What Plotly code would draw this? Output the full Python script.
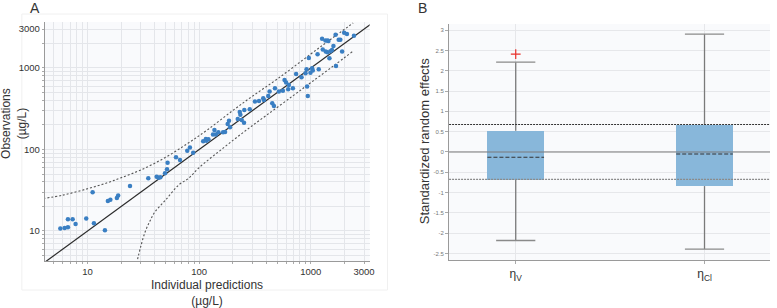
import plotly.graph_objects as go

# ---------------- Panel A data: observations vs individual predictions (µg/L)
ipred = [5.70, 6.23, 6.67, 6.67, 7.35, 7.81, 9.73, 11.1, 11.4, 14.3, 15.2, 16.0, 18.3, 18.8, 24.0,
         35.0, 41.6, 43.3, 44.9, 49.4, 51.5, 52.1, 62.0, 67.3, 78.2, 82.6, 88.4, 108.6, 114.8, 116.2,
         121, 133, 137, 141, 148.6, 163.7, 170.6, 180, 185, 189, 221.6, 230.9, 233.9, 240.6, 252.2,
         253.7, 283.8, 316, 343.5, 375, 380, 416, 427.6, 451.5, 467.7, 477.5, 517.6, 562.3, 582, 601,
         627, 636, 691, 739, 826, 897, 916, 927, 940, 960, 993, 1027, 1042, 1150, 1178, 1262, 1280,
         1352, 1413, 1440, 1360, 1409, 1469, 1500, 1550, 1595, 1667, 1683, 1778, 1840, 1908, 1990,
         2108, 2437]
obs = [10.7, 10.9, 11.1, 13.9, 13.9, 12.2, 14.2, 29.8, 12.4, 10.2, 23.3, 24.2, 25.4, 27.3, 35.6,
       44.3, 46.4, 45.1, 45.6, 51.0, 57.2, 68.9, 80.2, 74.3, 96.7, 106, 91.4, 126, 134.6, 128,
       133, 152, 173, 152, 162.6, 162.6, 164, 205, 225, 187, 236.5, 288, 267, 230, 213,
       305, 311, 386, 394, 425, 405, 453, 512, 369, 342, 563, 512, 526, 712, 660,
       548, 618, 563, 843, 769, 861, 964, 590, 453, 1324, 875, 991, 927, 1472, 964, 2275, 1687,
       2163, 2163, 2143, 1585, 1560, 1315, 1603, 1663, 1862, 2543, 1059, 2208, 2208, 1585, 2692,
       2600, 2472]

identity_x = [4, 3700]
pi_upper_x = [4.0, 6, 10, 15, 20, 30, 50, 80, 120, 200, 300, 500, 1000, 1500, 2400]
pi_upper_y = [25, 27.5, 33, 39, 45, 56, 80, 120, 176, 300, 450, 730, 1480, 2230, 3560]
pi_lower_x = [27.5, 30, 33, 36, 40, 50, 66, 80, 100, 157, 250, 400, 700, 1000, 1600, 2400]
pi_lower_y = [4.0, 6.5, 10, 13, 17, 24, 37, 44, 60, 99, 163, 262, 460, 660, 1060, 1610]

a_tickvals = [10, 100, 1000, 3000]

# ---------------- Panel B data: standardized random effects
b_labels = ["η<sub>V</sub>", "η<sub>Cl</sub>"]
b_pos = [0, 1]
b_lower = [-2.18, -2.39]
b_q1 = [-0.69, -0.84]
b_median = [-0.13, -0.05]
b_q3 = [0.52, 0.665]
b_upper = [2.21, 2.90]
b_outlier_pos = [0]
b_outlier_val = [2.41]
b_ref = [0.674, -0.674]
b_ticks = [3, 2.5, 2, 1.5, 1, 0.5, 0, -0.5, -1, -1.5, -2, -2.5]

BOX_HALF = 0.15
W, H = 777, 308

fig = go.Figure()

# ---- Panel A traces
fig.add_trace(go.Scatter(x=identity_x, y=identity_x, mode="lines",
                         line=dict(color="#2b2b2b", width=1.2), xaxis="x", yaxis="y",
                         showlegend=False, hoverinfo="skip"))
fig.add_trace(go.Scatter(x=pi_upper_x, y=pi_upper_y, mode="lines", line_shape="spline",
                         line=dict(color="#555555", width=1.1, dash="2px,2px"), xaxis="x", yaxis="y",
                         showlegend=False))
fig.add_trace(go.Scatter(x=pi_lower_x, y=pi_lower_y, mode="lines", line_shape="spline",
                         line=dict(color="#555555", width=1.1, dash="2px,2px"), xaxis="x", yaxis="y",
                         showlegend=False))
fig.add_trace(go.Scatter(x=ipred, y=obs, mode="markers",
                         marker=dict(color="#3a7fc3", size=4.5), xaxis="x", yaxis="y",
                         showlegend=False))

# ---- Panel B traces
fig.add_trace(go.Bar(x=b_pos, y=[q3 - q1 for q1, q3 in zip(b_q1, b_q3)], base=b_q1,
                     width=2 * BOX_HALF, marker=dict(color="#88b7da", line=dict(width=0)),
                     xaxis="x2", yaxis="y2", showlegend=False))
wx, wy = [], []
for p, lo, q1, q3, up in zip(b_pos, b_lower, b_q1, b_q3, b_upper):
    wx += [p, p, None, p, p, None]
    wy += [q3, up, None, q1, lo, None]
fig.add_trace(go.Scatter(x=wx, y=wy, mode="lines", line=dict(color="#7a7a7a", width=1.3),
                         xaxis="x2", yaxis="y2", showlegend=False))
fig.add_trace(go.Scatter(x=b_pos + b_pos, y=b_upper + b_lower, mode="markers",
                         marker=dict(symbol="line-ew", size=28,
                                     line=dict(color="#8a8a8a", width=1.3)),
                         xaxis="x2", yaxis="y2", showlegend=False))
mx, my = [], []
for p, m in zip(b_pos, b_median):
    mx += [p - BOX_HALF, p + BOX_HALF, None]
    my += [m, m, None]
fig.add_trace(go.Scatter(x=mx, y=my, mode="lines", line=dict(color="#333333", width=1.1, dash="4px,2px"),
                         xaxis="x2", yaxis="y2", showlegend=False))
fig.add_trace(go.Scatter(x=b_outlier_pos, y=b_outlier_val, mode="markers",
                         marker=dict(symbol="cross-thin", size=7, line=dict(color="#e8302a", width=1.2)),
                         xaxis="x2", yaxis="y2", showlegend=False))

# reference lines in panel B
fig.add_shape(type="line", xref="x2 domain", yref="y2", x0=0, x1=1, y0=0, y1=0,
              line=dict(color="#7a7a7a", width=1.1))
fig.add_shape(type="line", xref="x2 domain", yref="y2", x0=0, x1=1, y0=b_ref[0], y1=b_ref[0],
              line=dict(color="#333333", width=1.1, dash="2px,1px"))
fig.add_shape(type="line", xref="x2 domain", yref="y2", x0=0, x1=1, y0=b_ref[1], y1=b_ref[1],
              line=dict(color="#8a8a8a", width=1.1, dash="2px,1px"))

# faint panel frame around A
fig.add_shape(type="rect", xref="paper", yref="paper", x0=22 / W, x1=390 / W,
              y0=1 - 290 / H, y1=1 - 14 / H, line=dict(color="#f0f0f0", width=1), layer="below")

# ---- axes (minor gridlines at 2..9 within each decade)
a_minor = [m * 10 ** e for e in range(0, 4) for m in range(1, 10)]
a_minor = [v for v in a_minor if 4 <= v <= 3700 and v not in a_tickvals]

axis_a = dict(type="log", tickvals=a_tickvals, ticktext=[str(v) for v in a_tickvals],
              showgrid=True, gridcolor="#e4e6ea", gridwidth=1,
              minor=dict(tickmode="array", tickvals=a_minor, showgrid=True, gridcolor="#e4e6ea",
                         ticks="outside", ticklen=2, tickcolor="#aaaaaa"),
              showline=True, linecolor="#9a9a9a", ticks="outside", ticklen=2,
              tickcolor="#aaaaaa", tickfont=dict(size=9.5, color="#333333"), zeroline=False)

fig.update_layout(
    width=W, height=H, margin=dict(l=0, r=0, t=0, b=0),
    paper_bgcolor="white", plot_bgcolor="#f9fafc",
    font=dict(family="Liberation Sans, Arial, sans-serif", color="#333333", size=10),
    bargap=0,
    xaxis=dict(axis_a, domain=[45 / W, 372 / W], range=[0.616, 3.527], anchor="y"),
    yaxis=dict(axis_a, domain=[1 - 261 / H, 1 - 22 / H], range=[0.632, 3.563], anchor="x"),
    xaxis2=dict(domain=[452 / W, 775 / W], range=[-0.353, 1.347],
                tickvals=b_pos, ticktext=b_labels, showgrid=True, gridcolor="#e6e7ea",
                showline=True, linecolor="#9a9a9a", ticks="outside", ticklen=3,
                tickcolor="#aaaaaa", tickfont=dict(size=12, color="#333333"),
                zeroline=False, anchor="y2"),
    yaxis2=dict(domain=[1 - 260 / H, 1 - 24 / H], range=[-2.66, 3.15],
                tickvals=b_ticks, ticktext=[str(t) for t in b_ticks],
                showgrid=True, gridcolor="#e6e7ea",
                showline=True, linecolor="#9a9a9a", ticks="outside", ticklen=3,
                tickcolor="#aaaaaa", tickfont=dict(size=6, color="#777777"),
                zeroline=False, anchor="x2"),
)

annos = [
    dict(text="A", x=35 / W, y=1 - 8 / H, font=dict(size=14, color="#333333")),
    dict(text="B", x=425 / W, y=1 - 8 / H, font=dict(size=14, color="#333333")),
    dict(text="Observations<br>(µg/L)", x=14 / W, y=1 - 123 / H, textangle=-90,
         font=dict(size=12, color="#333333")),
    dict(text="Individual predictions<br>(µg/L)", x=208 / W, y=1 - 293 / H,
         font=dict(size=12, color="#333333")),
    dict(text="Standardized random effects", x=427 / W, y=1 - 141 / H, textangle=-90,
         font=dict(size=13, color="#333333")),
]
for a in annos:
    fig.add_annotation(xref="paper", yref="paper", showarrow=False,
                       xanchor="center", yanchor="middle", **a)

fig.write_html("out.html", config={"displayModeBar": False},
               post_script="document.body.style.margin='0';document.body.style.overflow='hidden';")
